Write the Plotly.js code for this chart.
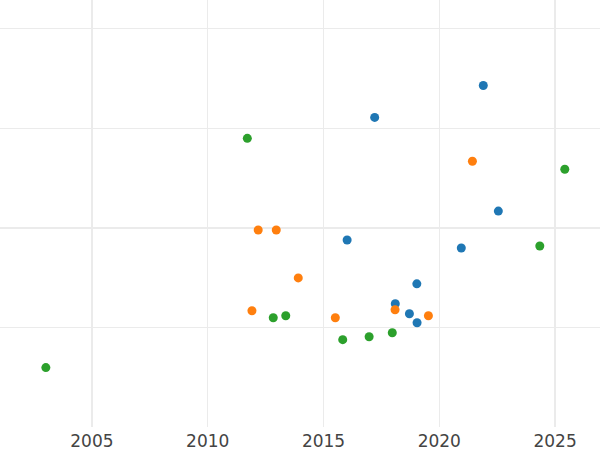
<!DOCTYPE html>
<html>
<head>
<meta charset="utf-8">
<script src="https://cdn.plot.ly/plotly-3.0.1.min.js"></script>
<style>html,body{margin:0;padding:0;background:#fff;}#chart{width:600px;height:450px;}</style>
</head>
<body>
<div id="chart"></div>
<script>
var blueX = [2017.21, 2021.90, 2022.55, 2016.02, 2020.95, 2019.03, 2018.10, 2018.71, 2019.04];
var blueY = [3.11, 3.43, 2.17, 1.88, 1.80, 1.44, 1.24, 1.14, 1.05];
var orangeX = [2021.43, 2012.18, 2012.96, 2013.91, 2011.91, 2015.51, 2018.09, 2019.53];
var orangeY = [2.67, 1.98, 1.98, 1.50, 1.17, 1.10, 1.18, 1.12];
var greenX = [2011.71, 2025.42, 2024.34, 2012.83, 2013.37, 2015.83, 2016.97, 2017.97, 2003.01];
var greenY = [2.90, 2.59, 1.82, 1.10, 1.12, 0.88, 0.91, 0.95, 0.60];
var xTicks = [2005, 2010, 2015, 2020, 2025];
var yGrid = [1, 2, 3, 4];

function series(x, y, color) {
  return {x: x, y: y, type: 'scatter', mode: 'markers',
          marker: {color: color, size: 9}, showlegend: false, hoverinfo: 'x+y'};
}
var data = [
  series(blueX, blueY, '#1f77b4'),
  series(orangeX, orangeY, '#ff7f0e'),
  series(greenX, greenY, '#2ca02c')
];
var layout = {
  width: 600, height: 450,
  margin: {l: 0, r: 0, t: 0, b: 23, pad: 0},
  paper_bgcolor: '#ffffff', plot_bgcolor: '#ffffff',
  font: {family: 'DejaVu Sans', size: 17, color: '#444444'},
  xaxis: {range: [2001.03, 2026.94], tickvals: xTicks, ticktext: xTicks.map(String),
          showgrid: true, gridcolor: '#ebebeb', gridwidth: 1.5, zeroline: false,
          showline: false, ticks: '', ticklabelstandoff: 2,
          tickfont: {family: 'DejaVu Sans', size: 17, color: '#444444'}},
  yaxis: {range: [0.004, 4.288], tickvals: yGrid, showticklabels: false,
          showgrid: true, gridcolor: '#ebebeb', gridwidth: 1.5, zeroline: false,
          showline: false, ticks: ''}
};
Plotly.newPlot('chart', data, layout, {displayModeBar: false, staticPlot: true});
</script>
</body>
</html>
